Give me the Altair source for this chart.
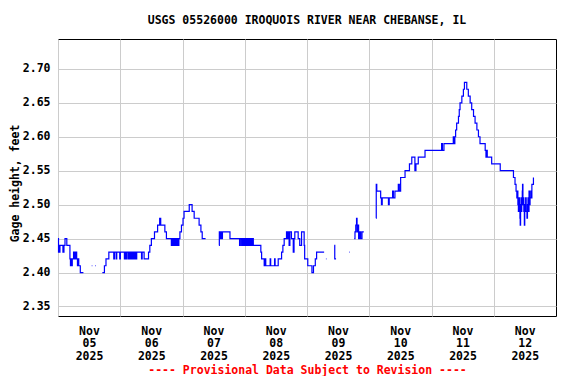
import altair as alt
import pandas as pd

TITLE = "USGS 05526000 IROQUOIS RIVER NEAR CHEBANSE, IL"
Y_TITLE = "Gage height, feet"
FOOTER = "---- Provisional Data Subject to Revision ----"

# hours since 2025-11-05 00:00 (local); None marks a gap in the record
hours = [
    0.0, 0.2, 0.35, 0.6, 0.75, 1.9, 2.3, 2.7, 3.4, 4.6, 4.8, 5.0, 5.2, 5.5, 6.0, 6.2, 6.5, 6.7,
    7.0, 7.2, 7.5, 7.8, 8.0, 8.6, 9.8, None,
    13.0, 13.25, None,
    14.3, 14.55, None,
    17.1, 17.9, 18.5, 19.6, 21.5, 21.75, 22.4, 22.65, 23.8, 24.05, 25.6, 25.85, 26.3, 26.55,
    27.1, 27.35, 27.6, 27.85, 28.3, 28.55, 28.9, 29.15, 29.6, 29.85, 30.1, 30.35, 32.2, 32.45,
    33.2, 34.9, 35.4, 36.0, 37.2, 38.4, 39.2, 39.6, 41.2, 41.8, 43.7, 44.0, 44.4, 44.6, 45.0,
    45.3, 45.7, 46.0, 46.3, 46.6, 47.0, 47.6, 48.2, 48.6, 50.6, 51.7, 52.5, 54.4, 55.1, 55.6,
    56.9, None,
    62.1, 62.2, 62.5, 62.8, 63.0, 63.4, 66.3, 70.0, 70.3, 70.8, 71.0, 71.4, 71.7, 72.0, 72.3,
    72.7, 73.0, 73.3, 73.6, 74.0, 74.3, 74.6, 74.9, 75.3, 78.2, 78.5, 79.5, 79.8, 80.1, 81.8,
    82.0, 83.5, 83.7, 84.9, 86.2, 86.7, 87.2, 88.1, 88.4, 88.8, 89.1, 89.4, 90.0, 90.7, 91.0,
    91.3, 92.6, 93.2, 93.9, 94.9, 95.1, 96.3, 97.9, 98.5, 99.2, 99.7, 102.6, None,
    103.3, 103.5, None,
    106.5, 106.7, 107.2, None,
    112.3, 112.5, None,
    114.2, 114.5, 114.8, 115.1, 115.3, 115.6, 115.9, 116.3, 116.7, 117.2, 117.9, None,
    122.6, 122.7, 122.9, 124.4, 124.7, 125.0, 127.4, 127.7, 129.0, 129.3, 129.9, 131.2, 131.6,
    132.1, 133.8, 135.5, 136.4, 137.6, 138.0, 138.9, 141.5, 147.9, 148.2, 148.8, 152.4, 152.7,
    153.0, 153.3, 153.7, 154.4, 154.7, 155.0, 155.7, 156.3, 156.7, 157.6, 158.2, 158.9, 159.5,
    160.2, 160.8, 161.5, 162.1, 162.7, 164.7, 165.0, 165.3, 165.5, 167.2, 170.5, 175.6, 176.2,
    176.6, 176.9, 177.1, 177.3, 177.5, 177.7, 177.9, 178.1, 178.2, 178.35, 178.5, 178.65,
    178.8, 179.0, 179.1, 179.25, 179.4, 179.6, 179.8, 179.95, 180.1, 180.3, 180.5, 180.8,
    181.0, 181.2, 181.4, 181.6, 181.8, 182.0, 182.3, 182.5, 182.7, 183.0, 183.3,
]

gage = [
    2.45, 2.43, 2.44, 2.43, 2.44, 2.43, 2.44, 2.45, 2.44, 2.42, 2.41, 2.42, 2.41, 2.42, 2.43, 2.42, 2.43, 2.42,
    2.43, 2.42, 2.41, 2.42, 2.41, 2.40, 2.40, None,
    2.41, 2.41, None,
    2.41, 2.41, None,
    2.40, 2.41, 2.42, 2.43, 2.42, 2.43, 2.42, 2.43, 2.42, 2.43, 2.42, 2.43, 2.42, 2.43,
    2.42, 2.43, 2.42, 2.43, 2.42, 2.43, 2.42, 2.43, 2.42, 2.43, 2.42, 2.43, 2.42, 2.43,
    2.42, 2.43, 2.44, 2.45, 2.46, 2.47, 2.48, 2.47, 2.46, 2.45, 2.44, 2.45, 2.44, 2.45, 2.44,
    2.45, 2.44, 2.45, 2.44, 2.45, 2.46, 2.47, 2.48, 2.49, 2.50, 2.49, 2.48, 2.47, 2.46, 2.45,
    2.45, None,
    2.44, 2.46, 2.45, 2.46, 2.45, 2.46, 2.45, 2.44, 2.45, 2.44, 2.45, 2.44, 2.45, 2.44, 2.45,
    2.44, 2.45, 2.44, 2.45, 2.44, 2.45, 2.44, 2.45, 2.44, 2.43, 2.42, 2.41, 2.42, 2.41, 2.42,
    2.41, 2.42, 2.41, 2.42, 2.43, 2.44, 2.45, 2.46, 2.45, 2.46, 2.44, 2.46, 2.45, 2.43, 2.45,
    2.46, 2.45, 2.44, 2.46, 2.44, 2.42, 2.41, 2.40, 2.41, 2.42, 2.43, 2.43, None,
    2.42, 2.42, None,
    2.44, 2.42, 2.42, None,
    2.43, 2.43, None,
    2.45, 2.46, 2.47, 2.48, 2.46, 2.47, 2.45, 2.46, 2.45, 2.46, 2.46, None,
    2.48, 2.53, 2.52, 2.51, 2.50, 2.51, 2.50, 2.51, 2.52, 2.51, 2.52, 2.53, 2.52,
    2.54, 2.55, 2.56, 2.57, 2.55, 2.56, 2.57, 2.58, 2.59, 2.58, 2.59, 2.60, 2.59,
    2.60, 2.61, 2.62, 2.63, 2.64, 2.65, 2.66, 2.67, 2.68, 2.67, 2.66, 2.65, 2.64,
    2.63, 2.62, 2.61, 2.60, 2.59, 2.58, 2.57, 2.58, 2.57, 2.56, 2.55, 2.54, 2.53,
    2.52, 2.51, 2.52, 2.50, 2.49, 2.51, 2.50, 2.48, 2.47, 2.50, 2.51, 2.49,
    2.50, 2.52, 2.53, 2.50, 2.51, 2.49, 2.47, 2.50, 2.49, 2.51, 2.49, 2.48,
    2.50, 2.51, 2.49, 2.52, 2.50, 2.51, 2.52, 2.51, 2.53, 2.53, 2.54,
]

y_ticks = [2.35, 2.40, 2.45, 2.50, 2.55, 2.60, 2.65, 2.70]
label_days = [5, 6, 7, 8, 9, 10, 11, 12]

# build table with segment ids (gaps split the line)
rows = []
seg = 0
base = pd.Timestamp("2025-11-05T00:00:00")
for h, v in zip(hours, gage):
    if h is None or v is None:
        seg += 1
        continue
    rows.append({"time": base + pd.Timedelta(hours=h), "gage": v, "seg": seg})
df = pd.DataFrame(rows)

FONT = "DejaVu Sans Mono"
FS = 11.5

x_axis = alt.Axis(
    values=[alt.DateTime(year=2025, month=11, date=d, hours=0) for d in label_days],
    labelExpr="[timeFormat(datum.value, '%b'), timeFormat(datum.value, '%d'), timeFormat(datum.value, '%Y')]",
    labelOffset=31,
    labelFlush=False,
    labelOverlap=False,
    labelAlign="center",
    labelBaseline="top",
    labelLineHeight=12.7,
    labelPadding=9,
    ticks=False,
    tickSize=0,
    domain=False,
    grid=True,
    title=FOOTER,
    titleColor="#ff0000",
    titleY=57.5,
    titleBaseline="alphabetic",
)

y_axis = alt.Axis(
    values=y_ticks,
    format=".2f",
    ticks=False,
    tickSize=0,
    labelPadding=8,
    domain=False,
    grid=True,
    title=Y_TITLE,
    titleX=-43,
    titleY=144,
    titleBaseline="middle",
    titleAngle=-90,
)

chart = (
    alt.Chart(df)
    .mark_line(color="#0000ff", strokeWidth=1.2, interpolate="step-after")
    .encode(
        x=alt.X(
            "time:T",
            scale=alt.Scale(
                domain=[
                    alt.DateTime(year=2025, month=11, date=5, hours=0),
                    alt.DateTime(year=2025, month=11, date=13, hours=0),
                ]
            ),
            axis=x_axis,
        ),
        y=alt.Y("gage:Q", scale=alt.Scale(domain=[2.336, 2.744], nice=False, zero=False), axis=y_axis),
        detail="seg:N",
    )
    .properties(
        width=498,
        height=277,
        title=alt.Title(
            TITLE,
            font=FONT,
            fontSize=FS,
            fontWeight="bold",
            anchor="middle",
            offset=4,
            baseline="alphabetic",
            color="black",
        ),
        autosize=alt.AutoSizeParams(type="none"),
        padding={"left": 50, "top": 31, "right": 12, "bottom": 60},
    )
    .configure_view(stroke="black", strokeWidth=1)
    .configure_axis(
        gridColor="#cccccc",
        gridWidth=1,
        labelFont=FONT,
        labelFontSize=FS,
        labelFontWeight="bold",
        labelColor="black",
        titleFont=FONT,
        titleFontSize=FS,
        titleFontWeight="bold",
        titleColor="black",
    )
)

chart.save("out.html", embed_options={"renderer": "svg", "actions": False})
